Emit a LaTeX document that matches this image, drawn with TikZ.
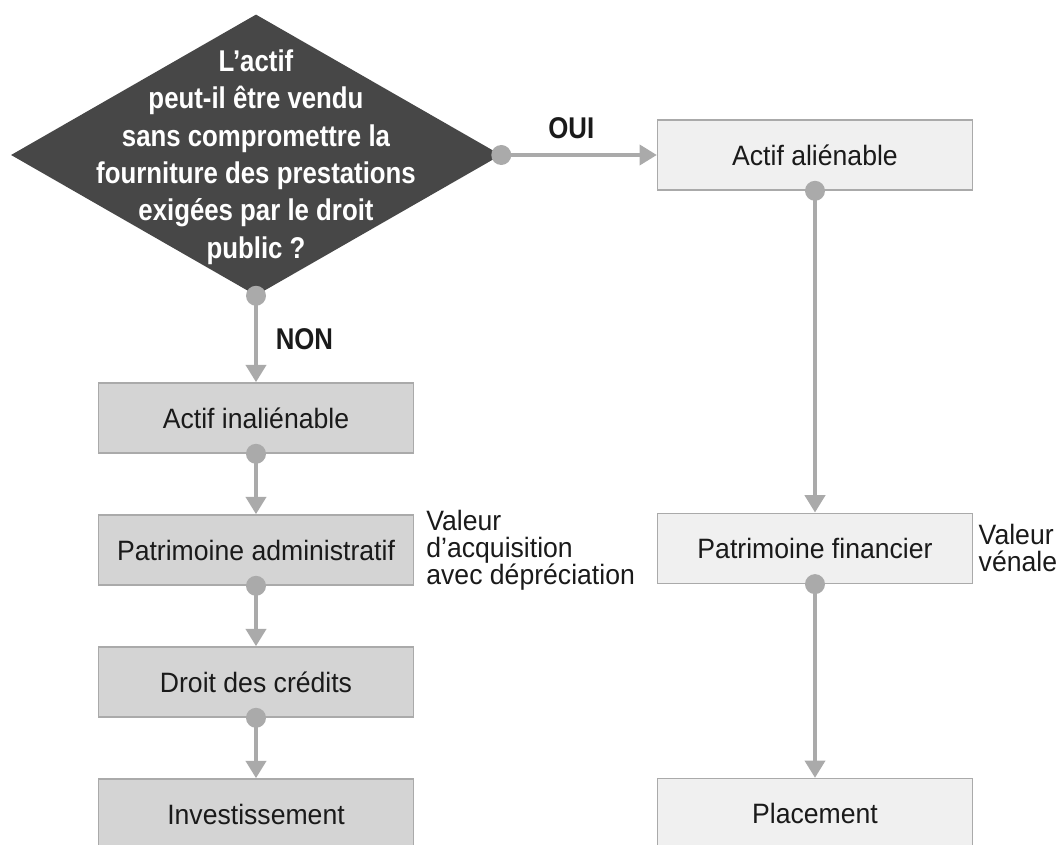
\documentclass[tikz,border=0pt]{standalone}
\usepackage{fontspec}
\setmainfont{Liberation Sans}[FakeStretch=0.95, BoldFeatures={FakeStretch=0.86}]
\usetikzlibrary{shapes.geometric, positioning, arrows.meta}

\definecolor{darkfill}{HTML}{474747}
\definecolor{linegrey}{HTML}{AAAAAA}
\definecolor{leftfill}{HTML}{D4D4D4}
\definecolor{rightfill}{HTML}{F0F0F0}
\definecolor{textdark}{HTML}{1A1A1A}

\tikzset{
	decision/.style={diamond, fill=darkfill, inner sep=0pt, minimum width=367.5pt, minimum height=210.75pt},
	decisiontext/.style={text=white, align=center, font=\fontsize{22.5}{28}\selectfont\bfseries},
	box/.style={rectangle, draw=linegrey, line width=1.2pt, minimum width=236pt, minimum height=52.5pt},
	inbox/.style={box, fill=leftfill},
	outbox/.style={box, fill=rightfill},
	answer/.style={font=\fontsize{22.5}{26}\selectfont\bfseries},
	sidenote/.style={align=left, inner sep=0pt, font=\fontsize{21}{20.25}\selectfont},
	flow/.style={->, draw=linegrey, line width=3pt},
	dot/.style={fill=linegrey}
}

\begin{document}
\begin{tikzpicture}[x=0.75pt, y=-0.75pt, node distance=99pt, on grid, >={Triangle[length=13pt, width=15pt]}, font=\fontsize{21}{25}\selectfont, text=textdark]
	\useasboundingbox (0,0) rectangle (1061,845);
	\node[decision] (q) at (256,155) {};
	\node[decisiontext] (qtext) at (256,157) {L’actif\\peut-il être vendu\\sans compromettre la\\fourniture des prestations\\exigées par le droit\\public ?};
	% colonne de gauche
	\node[inbox] (inal) at (256,418) {Actif inaliénable};
	\node[inbox] (patadm) [below=of inal] {Patrimoine administratif};
	\node[inbox] (credits) [below=of patadm] {Droit des crédits};
	\node[inbox] (invest) [below=of credits] {Investissement};
	% colonne de droite
	\node[outbox] (alien) at (815,155) {Actif aliénable};
	\node[outbox] (patfin) [below=295pt of alien] {Patrimoine financier};
	\node[outbox] (placement) [below=199pt of patfin] {Placement};
	% valeurs
	\node[sidenote, anchor=west] (valadm) at ([xshift=9pt]patadm.east) {Valeur\\d’acquisition\\avec dépréciation};
	\node[sidenote, anchor=west] (valfin) at ([xshift=4pt]patfin.east) {Valeur\\vénale};
	\draw[flow] (q.east) -- node[answer, above=7pt, pos=.45] {OUI} (alien.west);
	\draw[flow] (q.south) -- node[answer, right=10pt] {NON} (inal.north);
	\foreach \from/\to in {inal/patadm, patadm/credits, credits/invest, alien/patfin, patfin/placement}
		\draw[flow] (\from.south) -- (\to.north);
	\foreach \at in {q.east, q.south, inal.south, patadm.south, credits.south, alien.south, patfin.south}
		\fill[dot] (\at) circle (7.5pt);
\end{tikzpicture}
\end{document}
